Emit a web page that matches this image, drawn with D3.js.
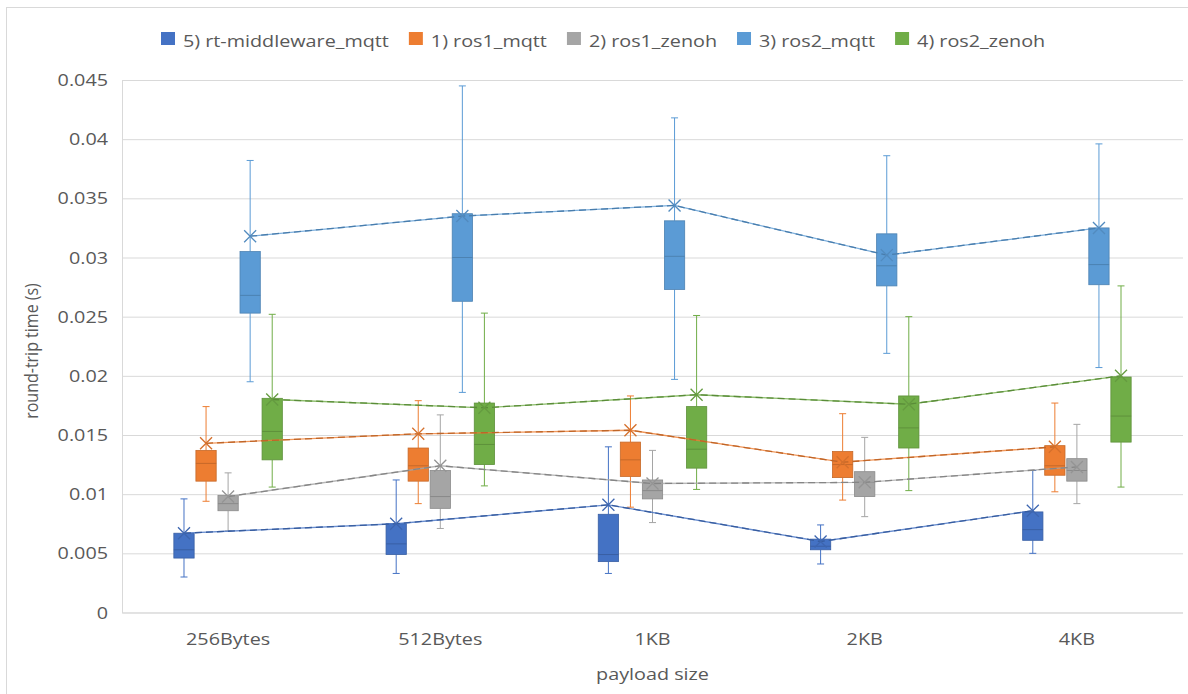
<!DOCTYPE html>
<html>
<head>
<meta charset="utf-8">
<script src="https://cdn.jsdelivr.net/npm/d3@7"></script>
<style>
  html, body { margin: 0; padding: 0; background: #fff; }
  svg { display: block; font-family: "Open Sans", sans-serif; }
</style>
</head>
<body>
<svg id="chart" width="1188" height="694"></svg>
<script>
// Payload sizes on the x axis
const categories = ["256Bytes", "512Bytes", "1KB", "2KB", "4KB"];

// Series in drawing / legend order
const seriesNames = ["5) rt-middleware_mqtt", "1) ros1_mqtt", "2) ros1_zenoh", "3) ros2_mqtt", "4) ros2_zenoh"];
const seriesColors = ["#4472C4", "#ED7D31", "#A5A5A5", "#5B9BD5", "#70AD47"];

// Round-trip statistics per payload size: [min, q1, median, q3, max, mean] in seconds
const rtMiddlewareMqtt = [
  [0.0030, 0.0046, 0.0053, 0.0067, 0.0096, 0.0067],
  [0.0033, 0.0049, 0.0058, 0.0075, 0.0112, 0.0075],
  [0.0033, 0.0043, 0.0049, 0.0083, 0.0140, 0.0091],
  [0.0041, 0.0053, 0.0056, 0.0062, 0.0074, 0.0060],
  [0.0050, 0.0061, 0.0070, 0.0085, 0.0120, 0.0086]
];
const ros1Mqtt = [
  [0.0094, 0.0111, 0.0126, 0.0137, 0.0174, 0.0143],
  [0.0092, 0.0111, 0.0124, 0.0139, 0.0179, 0.0151],
  [0.0089, 0.0115, 0.0129, 0.0144, 0.0183, 0.0154],
  [0.0095, 0.0114, 0.0125, 0.0136, 0.0168, 0.0127],
  [0.0102, 0.0116, 0.0124, 0.0141, 0.0177, 0.0140]
];
const ros1Zenoh = [
  [0.0069, 0.0086, 0.0092, 0.0099, 0.0118, 0.0098],
  [0.0071, 0.0088, 0.0098, 0.0120, 0.0167, 0.0124],
  [0.0076, 0.0096, 0.0103, 0.0112, 0.0137, 0.0109],
  [0.0081, 0.0098, 0.0110, 0.0119, 0.0148, 0.0110],
  [0.0092, 0.0111, 0.0120, 0.0130, 0.0159, 0.0123]
];
const ros2Mqtt = [
  [0.0195, 0.0253, 0.0268, 0.0305, 0.0382, 0.0318],
  [0.0186, 0.0263, 0.0300, 0.0337, 0.0445, 0.0335],
  [0.0197, 0.0273, 0.0301, 0.0331, 0.0418, 0.0344],
  [0.0219, 0.0276, 0.0293, 0.0320, 0.0386, 0.0302],
  [0.0207, 0.0277, 0.0294, 0.0325, 0.0396, 0.0325]
];
const ros2Zenoh = [
  [0.0106, 0.0129, 0.0153, 0.0181, 0.0252, 0.0180],
  [0.0107, 0.0125, 0.0142, 0.0177, 0.0253, 0.0173],
  [0.0104, 0.0122, 0.0138, 0.0174, 0.0251, 0.0184],
  [0.0103, 0.0139, 0.0156, 0.0183, 0.0250, 0.0176],
  [0.0106, 0.0144, 0.0166, 0.0199, 0.0276, 0.0200]
];

const yTicks = [0, 0.005, 0.01, 0.015, 0.02, 0.025, 0.03, 0.035, 0.04, 0.045];
const yTickLabels = ["0", "0.005", "0.01", "0.015", "0.02", "0.025", "0.03", "0.035", "0.04", "0.045"];

const seriesData = [rtMiddlewareMqtt, ros1Mqtt, ros1Zenoh, ros2Mqtt, ros2Zenoh];

const svg = d3.select("#chart");
const plot = { left: 122, right: 1183, top: 80, bottom: 612.5 };

const x = d3.scaleBand().domain(categories).range([plot.left, plot.right]);
const xs = d3.scaleBand().domain(seriesNames)
  .range([-54.25, 54.25]).paddingInner(0.08);
const y = d3.scaleLinear().domain([0, 0.045]).range([plot.bottom, plot.top]);

const textColor = "#595959";
const gridColor = "#D9D9D9";
const fontSize = 17.2;
const stretch = 1.15;   // wide horizontal letterforms

// Widen a text element horizontally about its anchor x
function widen(sel) {
  sel.each(function () {
    const t = d3.select(this);
    const ax = +t.attr("x") || 0;
    t.attr("transform", `translate(${ax},0) scale(${stretch},1) translate(${-ax},0)`);
  });
}

// Outer chart frame
svg.append("rect")
  .attr("x", 6.5).attr("y", 7.5).attr("width", 1200).attr("height", 700)
  .attr("fill", "none").attr("stroke", gridColor).attr("stroke-width", 1);

// Horizontal gridlines and y labels
const yAxis = d3.axisLeft(y).tickValues(yTicks)
  .tickFormat((d, i) => yTickLabels[i])
  .tickSize(-(plot.right - plot.left)).tickPadding(14);
const gy = svg.append("g").attr("transform", `translate(${plot.left},0)`).call(yAxis);
gy.select(".domain").attr("stroke", gridColor);
gy.selectAll(".tick line").attr("stroke", gridColor).attr("stroke-width", 1);
gy.selectAll(".tick text").attr("fill", textColor).attr("font-size", fontSize)
  .attr("font-family", "Open Sans, sans-serif").call(widen);

// Category labels
const xAxis = d3.axisBottom(x).tickSize(0).tickPadding(20);
const gx = svg.append("g").attr("transform", `translate(0,${plot.bottom})`).call(xAxis);
gx.select(".domain").remove();
gx.selectAll(".tick text").attr("fill", textColor).attr("font-size", fontSize)
  .attr("font-family", "Open Sans, sans-serif").call(widen);

// Axis titles
svg.append("text")
  .attr("x", (plot.left + plot.right) / 2).attr("y", 680)
  .attr("text-anchor", "middle").attr("fill", textColor).attr("font-size", fontSize)
  .text("payload size").call(widen);
svg.append("text")
  .attr("transform", `translate(38,351) scale(${stretch},1) rotate(-90)`)
  .attr("text-anchor", "middle").attr("fill", textColor).attr("font-size", 16)
  .text("round-trip time (s)");

const cx = (ci, si) => x(categories[ci]) + x.bandwidth() / 2 + xs(seriesNames[si]) + xs.bandwidth() / 2;

// Boxes and whiskers
seriesData.forEach((rows, si) => {
  const color = seriesColors[si];
  const dark = d3.color(color).darker(0.5).formatHex();
  const g = svg.append("g");
  const bw = xs.bandwidth();
  rows.forEach((r, ci) => {
    const [mn, q1, med, q3, mx] = r;
    const c = cx(ci, si);
    // whiskers
    g.append("line").attr("x1", c).attr("x2", c).attr("y1", y(mx)).attr("y2", y(q3))
      .attr("stroke", color).attr("stroke-width", 1);
    g.append("line").attr("x1", c).attr("x2", c).attr("y1", y(q1)).attr("y2", y(mn))
      .attr("stroke", color).attr("stroke-width", 1);
    [mn, mx].forEach(v => g.append("line")
      .attr("x1", c - 3.5).attr("x2", c + 3.5).attr("y1", y(v)).attr("y2", y(v))
      .attr("stroke", color).attr("stroke-width", 1));
    // box
    g.append("rect").attr("x", c - bw / 2).attr("y", y(q3))
      .attr("width", bw).attr("height", y(q1) - y(q3))
      .attr("fill", color).attr("stroke", dark).attr("stroke-width", 0.8);
    g.append("line").attr("x1", c - bw / 2).attr("x2", c + bw / 2)
      .attr("y1", y(med)).attr("y2", y(med))
      .attr("stroke", dark).attr("stroke-width", 1);
  });
});

// Mean lines connecting the means of each series
seriesData.forEach((rows, si) => {
  const color = seriesColors[si];
  const dark = d3.color(color).darker(0.6).formatHex();
  const line = d3.line().x((r, ci) => cx(ci, si)).y(r => y(r[5]));
  svg.append("path").datum(rows).attr("d", line)
    .attr("fill", "none").attr("stroke", color).attr("stroke-width", 1.3).attr("opacity", 0.8);
  svg.append("path").datum(rows).attr("d", line)
    .attr("fill", "none").attr("stroke", dark).attr("stroke-width", 1.3)
    .attr("stroke-dasharray", "7,4");
});

// Mean markers
seriesData.forEach((rows, si) => {
  const color = d3.color(seriesColors[si]).darker(0.3).formatHex();
  rows.forEach((r, ci) => {
    const c = cx(ci, si), m = y(r[5]), s = 6;
    svg.append("path")
      .attr("d", `M${c - s},${m - s}L${c + s},${m + s}M${c - s},${m + s}L${c + s},${m - s}`)
      .attr("stroke", color).attr("stroke-width", 1.3).attr("fill", "none");
  });
});

// Legend, laid out left to right from the measured label widths
const legend = svg.append("g");
let lx = 161;
seriesNames.forEach((name, i) => {
  const lg = legend.append("g").attr("transform", `translate(${lx},32)`);
  lg.append("rect").attr("width", 14).attr("height", 13).attr("fill", seriesColors[i]);
  const t = lg.append("text").attr("x", 22).attr("y", 14.5).attr("fill", textColor)
    .attr("font-size", fontSize).text(name).call(widen);
  lx += 22 + t.node().getComputedTextLength() * stretch + 20;
});
</script>
</body>
</html>
